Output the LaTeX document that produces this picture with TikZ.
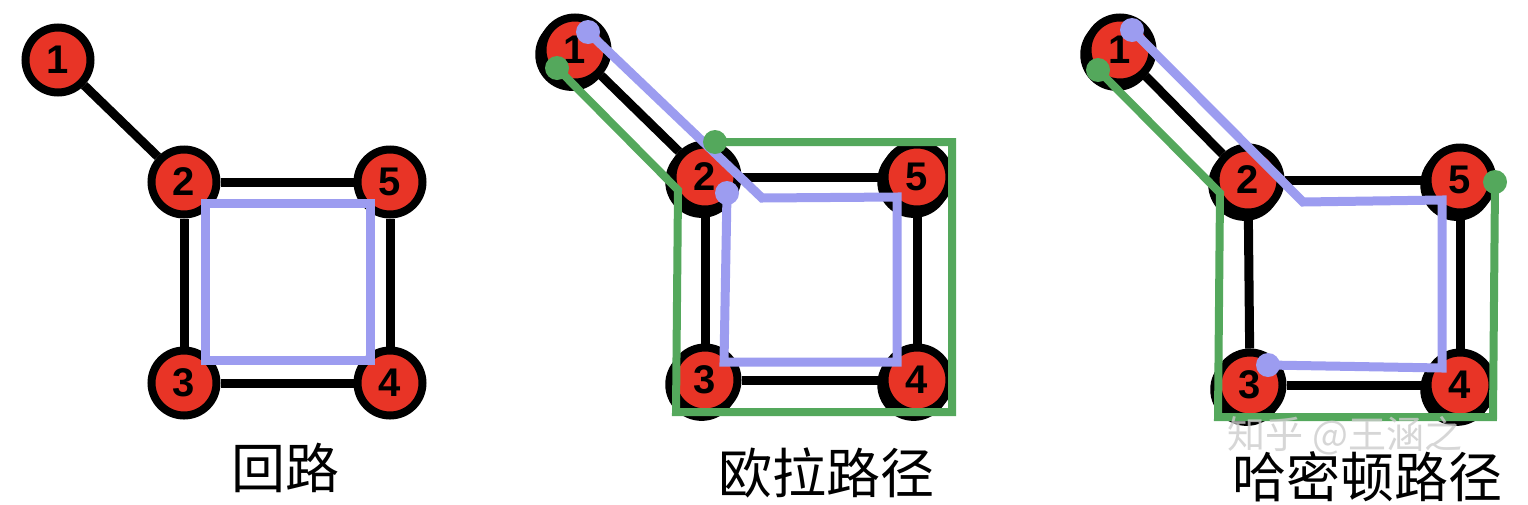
\documentclass[tikz,border=0pt]{standalone}
\usepackage{fontspec}
\newfontfamily\numfont{Liberation Sans}
\newfontfamily\cjk{Noto Sans CJK SC}
\usepackage{tikz}
\usetikzlibrary{calc,shadows}
\definecolor{vred}{RGB}{232,52,38}
\definecolor{pblue}{RGB}{156,156,240}
\definecolor{pgreen}{RGB}{84,168,92}
\tikzstyle{vertex} = [circle, draw=black, fill=vred, line width=8pt,
    minimum size=65pt, inner sep=0pt, font=\numfont\fontsize{40}{40}\selectfont\bfseries]
\tikzstyle{svertex} = [vertex, drop shadow={shadow xshift=-3pt, shadow yshift=-4pt,
    shadow scale=1.12, fill=black, opacity=1}]
\tikzstyle{edge} = [line width=9pt, black]
\tikzstyle{bluepath} = [line width=9pt, pblue]
\tikzstyle{greenpath} = [line width=8pt, pgreen]
\tikzstyle{caption} = [font=\cjk\fontsize{54}{54}\selectfont]
\begin{document}
\begin{tikzpicture}[x=1pt, y=-1pt]
    \useasboundingbox[fill=white] (0,0) rectangle (1528,504);

    \node [vertex] (a1) at (58,60) {1};
    \node [vertex] (a2) at (184,182) {2};
    \node [vertex] (a5) at (390,182) {5};
    \node [vertex] (a3) at (184,383) {3};
    \node [vertex] (a4) at (390,383) {4};
    \draw [edge] (a1) -- (a2);
    \draw [edge] (a2) -- (a5);
    \draw [edge] (a5) -- (a4);
    \draw [edge] (a4) -- (a3);
    \draw [edge] (a3) -- (a2);
    \draw [bluepath] ($(a2.center)+(21,21)$) -- ($(a5.center)+(-20,21)$)
        -- ($(a4.center)+(-20,-23)$) -- ($(a3.center)+(21,-23)$) -- cycle;
    \node [caption] (loop) at (285,468) {回路};

    \node [svertex] (b1) at (575,50) {1};
    \node [svertex] (b2) at (705,177) {2};
    \node [svertex] (b5) at (917,177) {5};
    \node [svertex] (b3) at (705,380) {3};
    \node [svertex] (b4) at (917,380) {4};
    \draw [edge] (b1) -- (b2);
    \draw [edge] (b2) -- (b5);
    \draw [edge] (b5) -- (b4);
    \draw [edge] (b4) -- (b3);
    \draw [edge] (b3) -- (b2);
    \coordinate (bbs) at ($(b1.center)+(13,-18)$);
    \coordinate (bbe) at ($(b2.center)+(22,16)$);
    \coordinate (bgs) at ($(b1.center)+(-18,18)$);
    \coordinate (bge) at ($(b2.center)+(10,-35)$);
    \draw [bluepath] (bbs) -- ($(b2.center)+(57,21)$) -- ($(b5.center)+(-20,20)$)
        -- ($(b4.center)+(-20,-18)$) -- ($(b3.center)+(19,-18)$) -- (bbe);
    \draw [greenpath] (bgs) -- ($(b2.center)+(-27,13)$) -- ($(b3.center)+(-29,32)$)
        -- ($(b4.center)+(35,32)$) -- ($(b5.center)+(35,-35)$) -- (bge);
    \fill [pblue] (bbs) circle (12pt);
    \fill [pblue] (bbe) circle (12pt);
    \fill [pgreen] (bgs) circle (12pt);
    \fill [pgreen] (bge) circle (12pt);
    \node [caption] (euler) at (826,473) {欧拉路径};

    \node [svertex] (c1) at (1120,50) {1};
    \node [svertex] (c2) at (1248,180) {2};
    \node [svertex] (c5) at (1460,180) {5};
    \node [svertex] (c3) at (1250,385) {3};
    \node [svertex] (c4) at (1460,385) {4};
    \draw [edge] (c1) -- (c2);
    \draw [edge] (c2) -- (c5);
    \draw [edge] (c5) -- (c4);
    \draw [edge] (c4) -- (c3);
    \draw [edge] (c3) -- (c2);
    \coordinate (cbs) at ($(c1.center)+(12,-20)$);
    \coordinate (cbe) at ($(c3.center)+(18,-20)$);
    \coordinate (cgs) at ($(c1.center)+(-22,20)$);
    \coordinate (cge) at ($(c5.center)+(35,2)$);
    \draw [bluepath] (cbs) -- ($(c2.center)+(55,22)$) -- ($(c5.center)+(-18,20)$)
        -- ($(c4.center)+(-18,-17)$) -- (cbe);
    \draw [greenpath] (cgs) -- ($(c2.center)+(-28,13)$) -- ($(c3.center)+(-32,32)$)
        -- ($(c4.center)+(33,32)$) -- (cge);
    \fill [pblue] (cbs) circle (12pt);
    \fill [pblue] (cbe) circle (12pt);
    \fill [pgreen] (cgs) circle (12pt);
    \fill [pgreen] (cge) circle (12pt);
    \node [caption] (hamilton) at (1367,477) {哈密顿路径};
    \node [font=\cjk\fontsize{38}{38}\selectfont, text=black!20, opacity=0.8, inner sep=0pt] (mark) at (1345,436) {知乎 @王涵之};
\end{tikzpicture}
\end{document}
